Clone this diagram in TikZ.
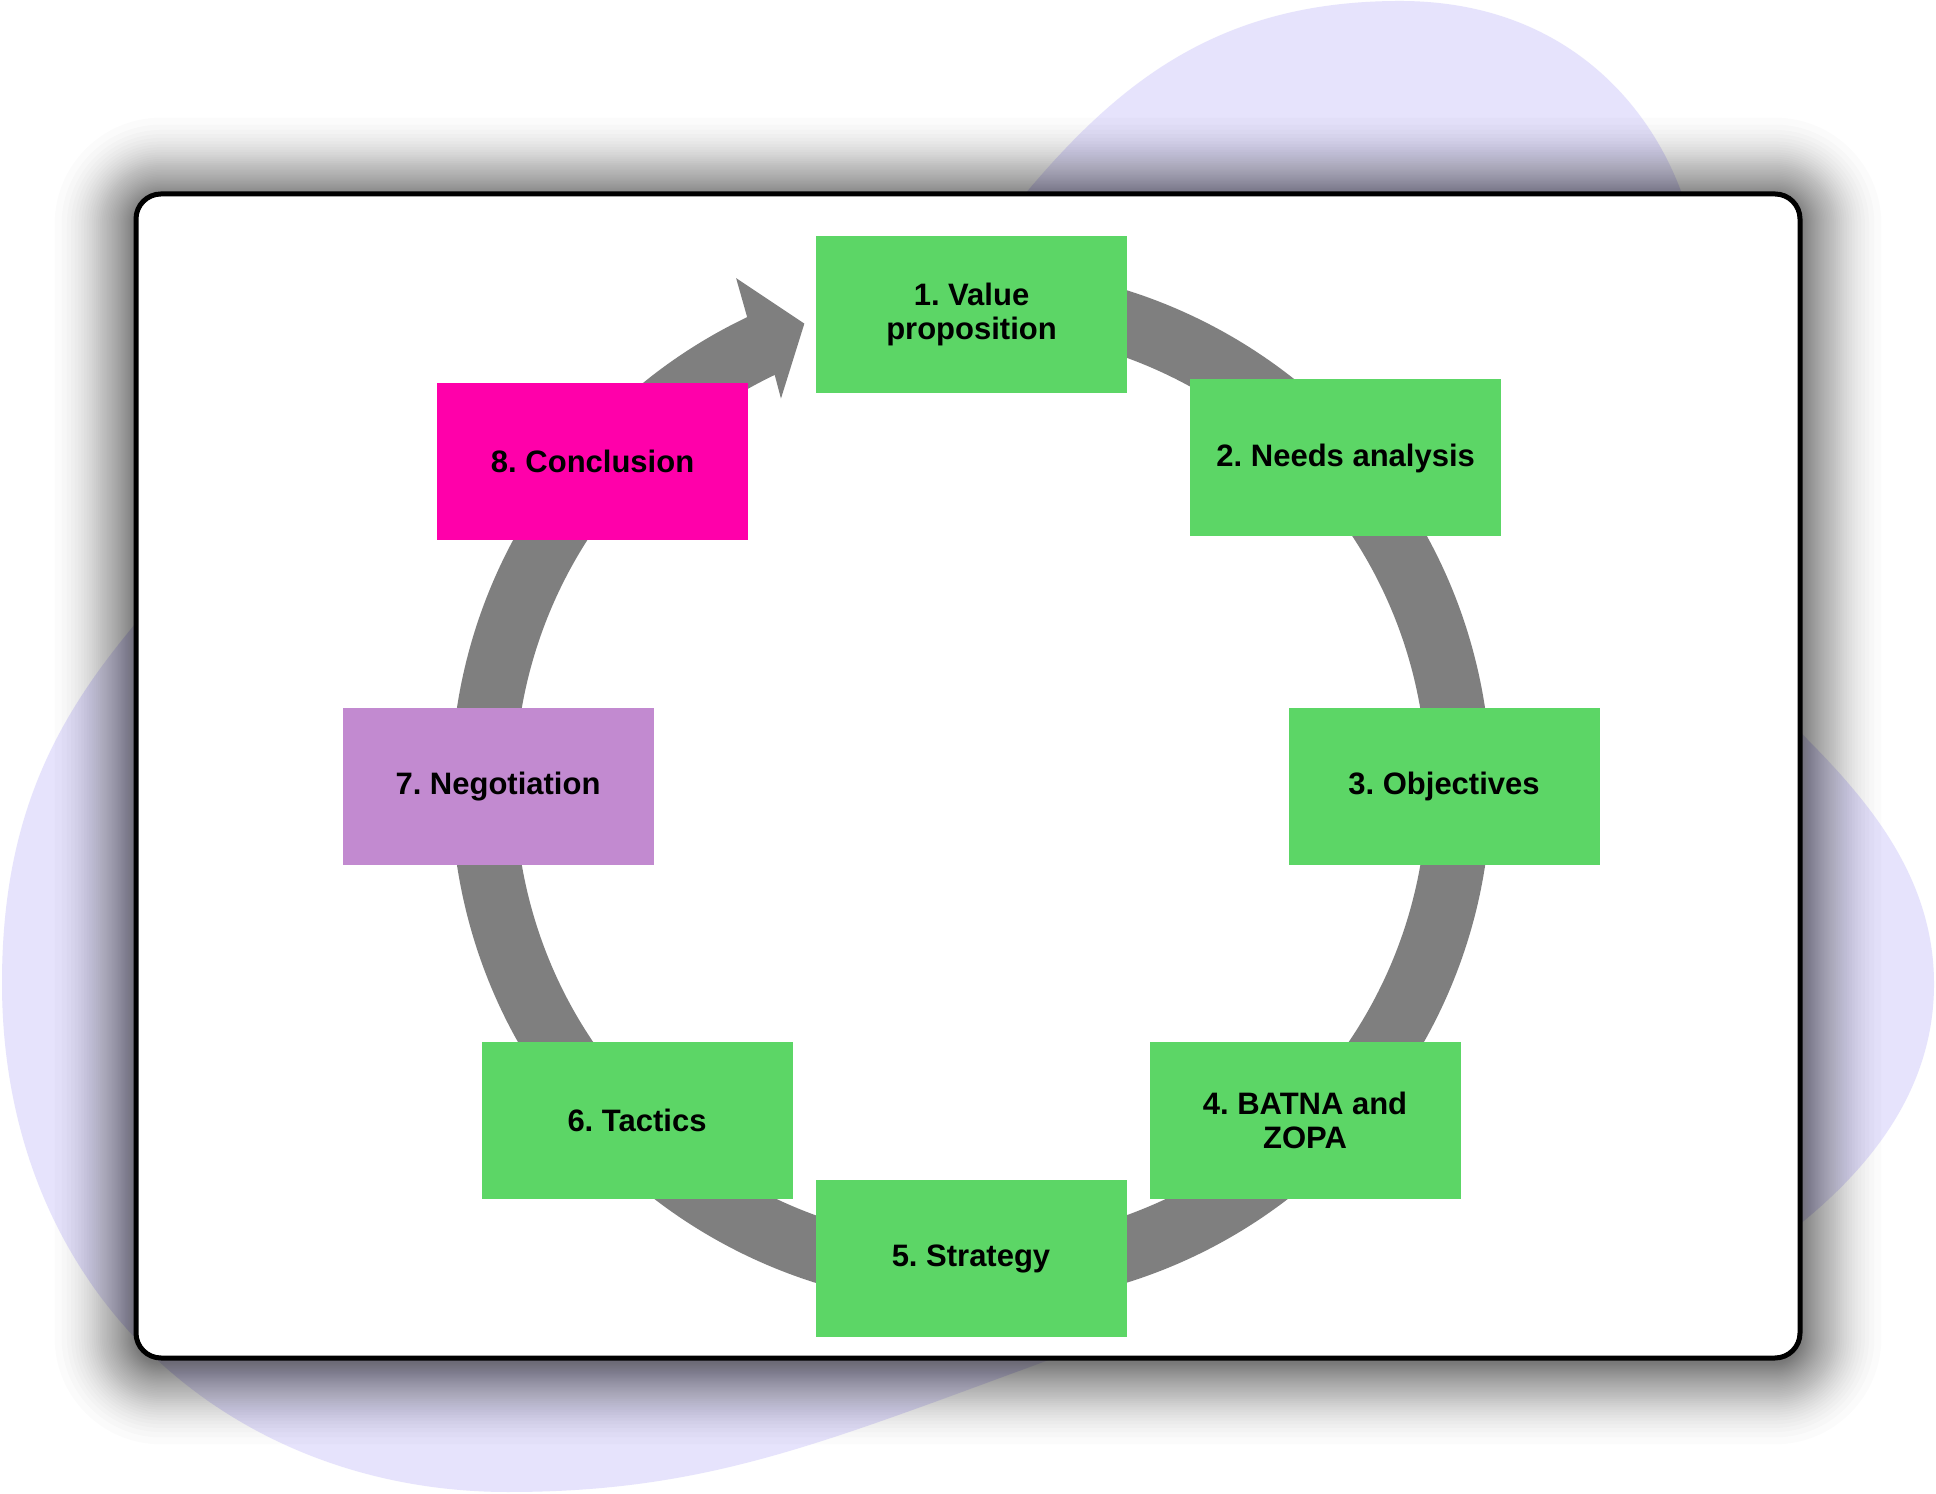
\documentclass[tikz,border=0pt]{standalone}
\usepackage{fontspec}
\setmainfont{Liberation Sans}
\definecolor{boxgreen}{RGB}{92,214,102}
\definecolor{boxpink}{RGB}{255,0,170}
\definecolor{boxpurple}{RGB}{194,138,208}
\definecolor{ringgray}{RGB}{127,127,127}
\definecolor{blobc}{RGB}{230,227,252}
\tikzset{
  stepbox/.style={rectangle, draw=none, minimum width=155.5pt, minimum height=78.5pt,
    inner sep=0pt, align=center, font=\fontsize{15.5}{16.6}\selectfont\bfseries\frenchspacing, text=black},
  ringline/.style={draw=ringgray, line width=32pt},
}
\begin{document}
\begin{tikzpicture}[x=0.5pt,y=0.5pt]
\useasboundingbox (0,0) rectangle (1936,1493);
\fill[white] (0,0) rectangle (1936,1493);
% background blob (hidden parts run behind the frame)
\fill[blobc]
  (1025,1299) .. controls (1120,1412) and (1220,1492) .. (1400,1492)
  .. controls (1560,1492) and (1648,1393) .. (1682,1299)
  -- (1800,761)
  .. controls (1864,697) and (1934,619) .. (1934,509)
  .. controls (1934,410) and (1878,332) .. (1800,269)
  -- (1057,136)
  .. controls (822,50) and (708,1) .. (508,1)
  .. controls (230,1) and (2,200) .. (2,510)
  .. controls (2,680) and (59,778) .. (136,870)
  -- cycle;
% soft shadow of the frame
\foreach \i in {1,...,40} {
  \pgfmathsetmacro{\d}{100*(1-(\i/40)^(1/2.2))}
  \pgfmathsetmacro{\rc}{(25+\d)*0.5}
  \fill[black, opacity=0.015, rounded corners=\rc pt]
    (136-\d,130-\d) rectangle (1800+\d,1294+\d);
}
% frame
\draw[line width=2.5pt, fill=white, rounded corners=12.5pt] (136,135) rectangle (1800,1299);
% circular arrow
\coordinate (c) at (971,706.5);
\draw[ringline] (c) ++(100:488) arc[start angle=100, end angle=-244.8, radius=488];
\fill[ringgray, shift={(c)}] (115.5:520) -- (114.8:560) -- (109.8:492) -- (116.1:432) -- (115.5:456) -- cycle;
% steps
\node[stepbox, fill=boxgreen] (n1) at (971.5,1178.5) {1. Value\\proposition};
\node[stepbox, fill=boxgreen] (n2) at (1345.7,1035) {2. Needs analysis};
\node[stepbox, fill=boxgreen] (n3) at (1444,706.5) {3. Objectives};
\node[stepbox, fill=boxgreen] (n4) at (1305,372.5) {4. BATNA and\\ZOPA};
\node[stepbox, fill=boxgreen] (n5) at (971,234.3) {5. Strategy};
\node[stepbox, fill=boxgreen] (n6) at (637,372.5) {6. Tactics};
\node[stepbox, fill=boxpurple] (n7) at (498,706.5) {7. Negotiation};
\node[stepbox, fill=boxpink] (n8) at (592.6,1031.7) {8. Conclusion};
\end{tikzpicture}
\end{document}
